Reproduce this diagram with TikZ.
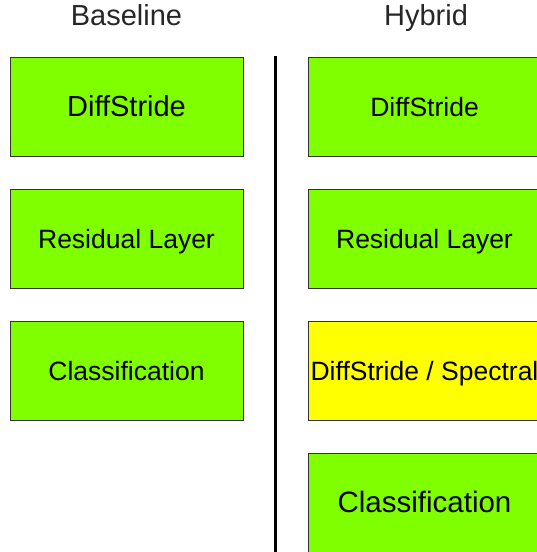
\documentclass[tikz,border=0pt]{standalone}
\usepackage{fontspec}
\setmainfont{Liberation Sans}
\usetikzlibrary{positioning}
\definecolor{limegreen}{HTML}{80FF00}
\definecolor{brightyellow}{HTML}{FFFF00}
\tikzstyle{block} = [rectangle, draw=black!80, line width=1pt, fill=limegreen, text centered, minimum width=233pt, minimum height=99pt, inner sep=0pt, text height=19pt, text depth=0pt, font=\fontsize{26.5}{30}\selectfont]
\tikzstyle{spectral} = [block, fill=brightyellow]
\tikzstyle{title} = [anchor=base, text=black!85, font=\fontsize{29}{33}\selectfont]
\tikzstyle{divider} = [draw, line width=3pt]

\begin{document}
\begin{tikzpicture}[x=1pt, y=-1pt, node distance=32pt]
		\useasboundingbox (0,0) rectangle (537,552);
		% column titles
		\node [title] (baseline) at (126.5,25) {Baseline};
		\node [title] (hybrid) at (426,25) {Hybrid};
		% baseline column
		\node [block, font=\fontsize{29}{33}\selectfont] (bdiff) at (126.5,106.5) {DiffStride};
		\node [block, below=of bdiff] (bres) {Residual Layer};
		\node [block, below=of bres] (bclass) {Classification};
		% hybrid column
		\node [block] (hdiff) at (424.5,106.5) {DiffStride};
		\node [block, below=of hdiff] (hres) {Residual Layer};
		\node [spectral, below=of hres] (hspec) {DiffStride / Spectral};
		\node [block, below=of hspec, font=\fontsize{29.5}{33}\selectfont] (hclass) {Classification};
		% separator
		\coordinate (divtop) at (275.5,56);
		\coordinate (divbot) at (275.5,552);
		\path [divider] (divtop) -- (divbot);
	\end{tikzpicture}
\end{document}
